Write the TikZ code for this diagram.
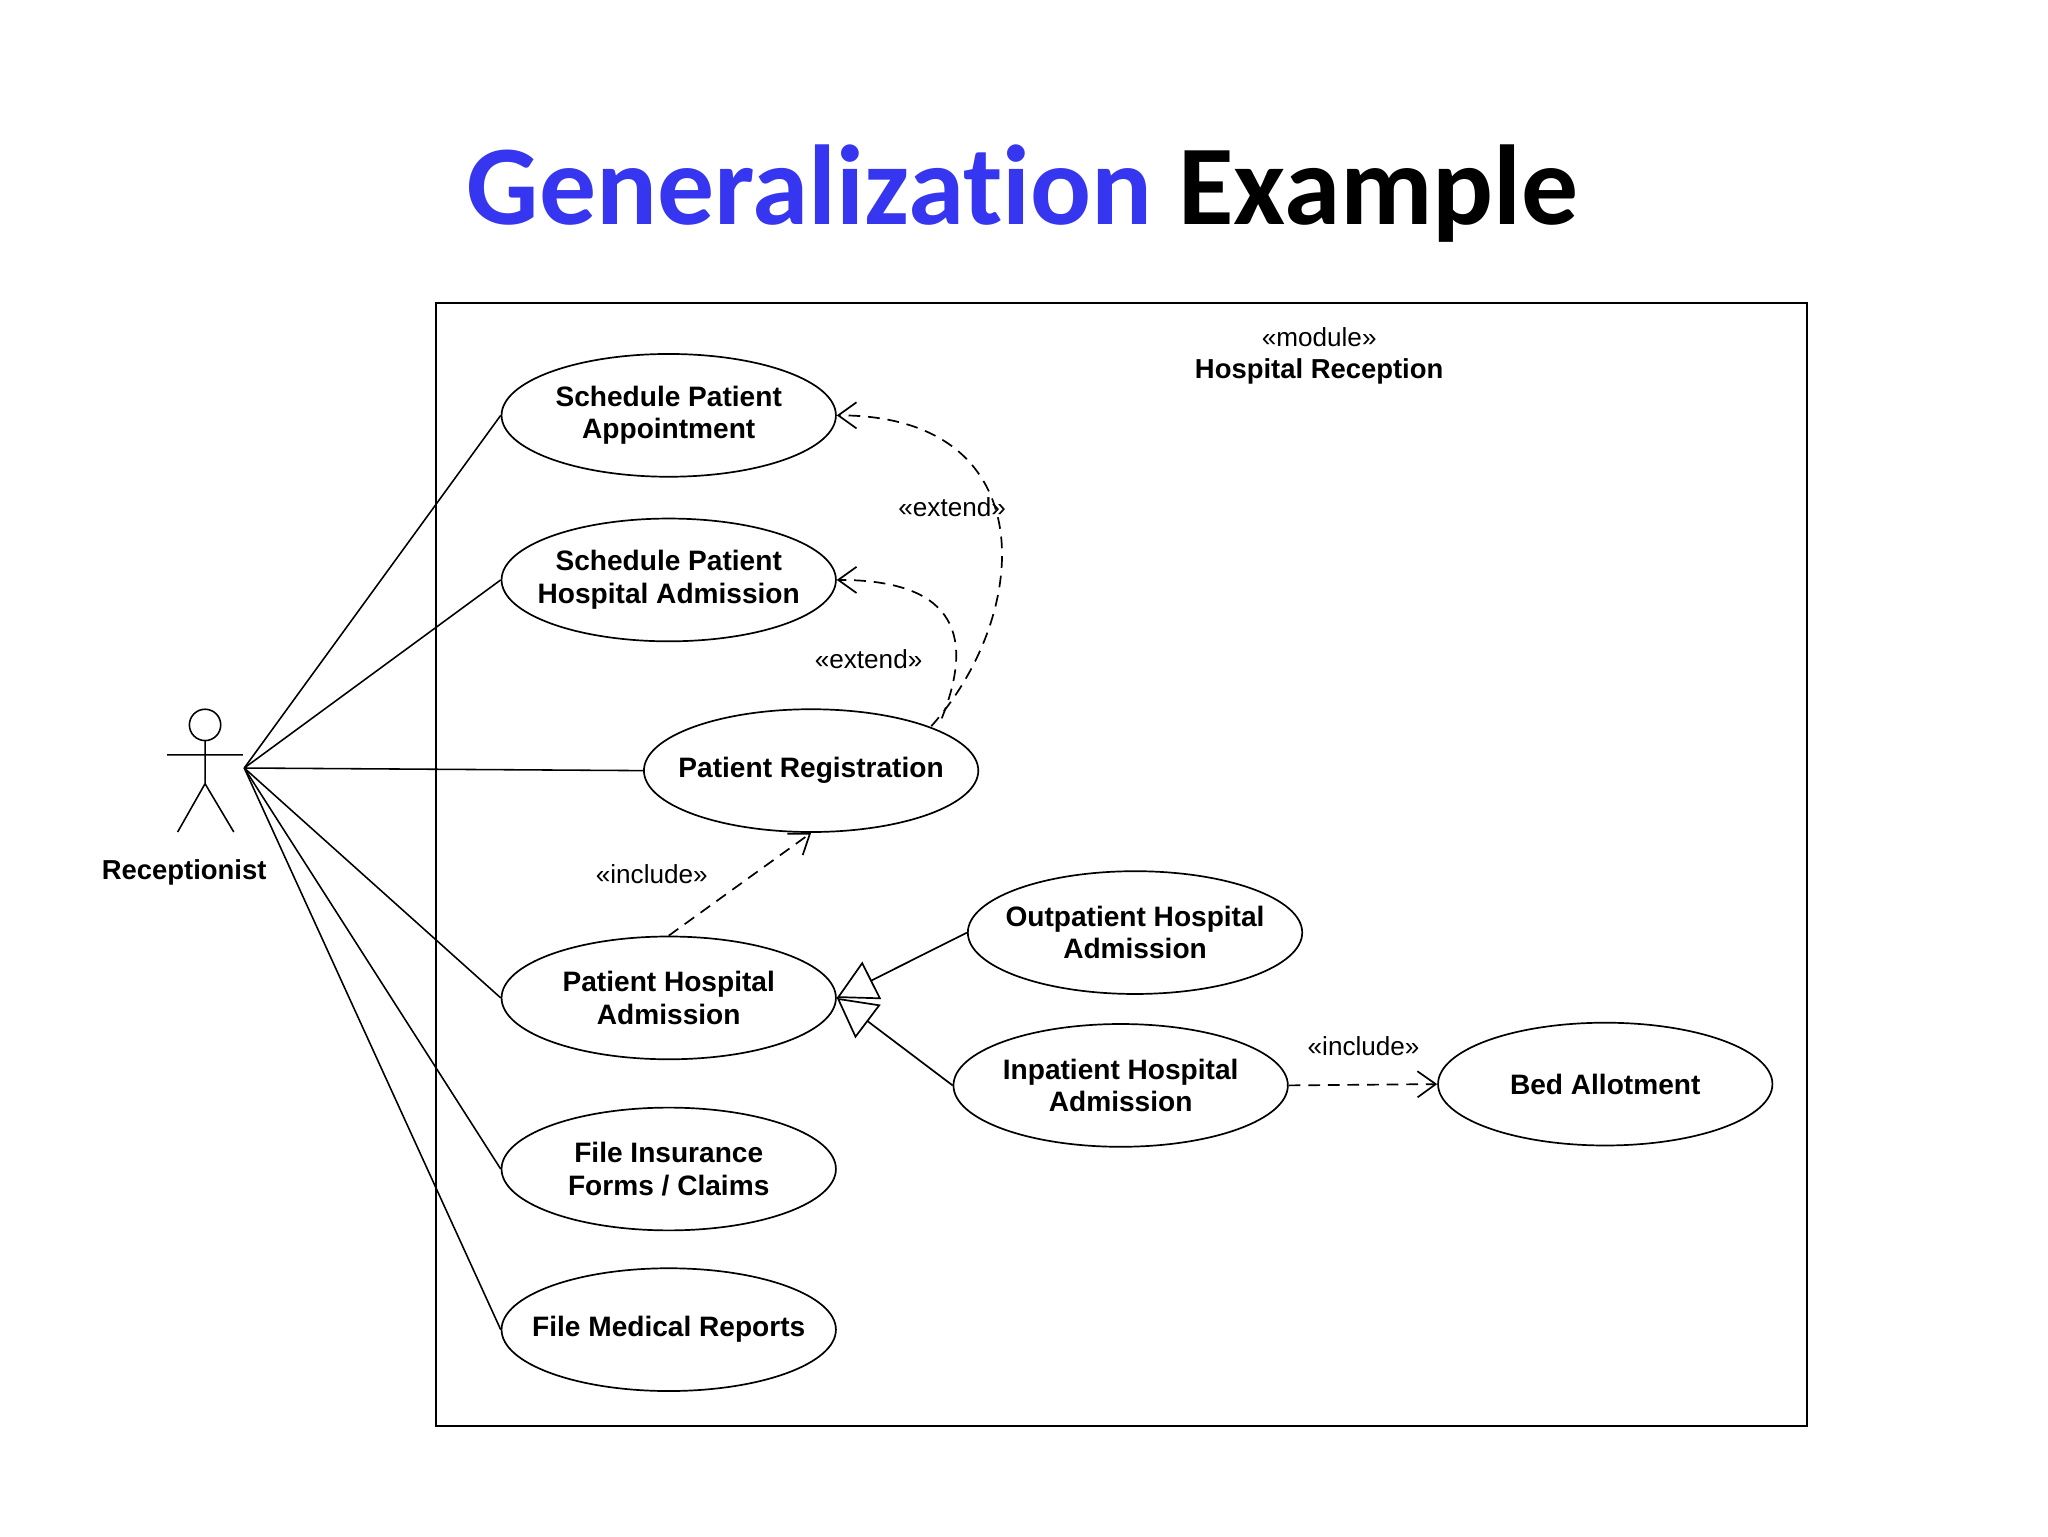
\documentclass[tikz,border=0pt]{standalone}
\usepackage{fontspec}
\setmainfont{Liberation Sans}
\newfontfamily\titlefont[Ligatures={NoCommon,NoRare,NoDiscretionary}]{Carlito}
\usetikzlibrary{shapes.geometric,arrows.meta}
\definecolor{titleblue}{RGB}{54,54,240}
\newcommand{\ct}[1]{\makebox[0pt]{#1}}
\begin{document}
\begin{tikzpicture}[x=1pt,y=-1pt,
  uc/.style={draw,ellipse,minimum width=256pt,minimum height=94pt,line width=1.3pt,align=center,font=\fontsize{21.5}{25}\selectfont\bfseries,inner sep=0pt},
  lbl/.style={font=\fontsize{20}{22}\selectfont},
  assoc/.style={line width=1.2pt},
  dep/.style={line width=1.3pt,dash pattern=on 9pt off 6pt,-{Straight Barb[length=14pt,width=20pt]}},
  gen/.style={line width=1.3pt,-{Triangle[open,length=30pt,width=32pt,fill=white]}}]
\useasboundingbox (0,0) rectangle (1568,1176);
\node[font=\titlefont\fontsize{87}{95}\selectfont\bfseries] (title) at (783,148) {\textcolor{titleblue}{Generalization} Example};
\node[draw,line width=1.5pt,minimum width=1050pt,minimum height=860pt,inner sep=0pt,anchor=north west] (frame) at (333,231) {};
\node[lbl] (mod) at (1010,258) {«module»};
\node[font=\fontsize{21}{23}\selectfont\bfseries] (hr) at (1010,284) {Hospital Reception};
% actor
\draw[line width=1.2pt] (157,555) circle (12);
\coordinate (neck) at (157,567);
\coordinate (hip) at (157,600);
\coordinate (al) at (128,578);
\coordinate (ar) at (186,578);
\coordinate (ll) at (136,637);
\coordinate (lr) at (179,637);
\coordinate (act) at (187,588);
\draw[line width=1.2pt] (neck)--(hip) (al)--(ar) (hip)--(ll) (hip)--(lr);
\node[font=\fontsize{21}{23}\selectfont\bfseries] (rec) at (141,668) {Receptionist};
% use cases
\node[uc] (spa) at (512,318) {\ct{Schedule Patient}\\\ct{Appointment}};
\node[uc] (sha) at (512,444) {\ct{Schedule Patient}\\\ct{Hospital Admission}};
\node[uc] (pr) at (621,590) {\ct{Patient Registration}};
\node[uc] (pha) at (512,764) {\ct{Patient Hospital}\\\ct{Admission}};
\node[uc] (fic) at (512,895) {\ct{File Insurance}\\\ct{Forms / Claims}};
\node[uc] (fmr) at (512,1018) {\ct{File Medical Reports}};
\node[uc] (oha) at (869,714) {\ct{Outpatient Hospital}\\\ct{Admission}};
\node[uc] (iha) at (858,831) {\ct{Inpatient Hospital}\\\ct{Admission}};
\node[uc] (ba) at (1229,830) {\ct{Bed Allotment}};
% associations
\foreach \t in {spa,sha,pr,pha,fic,fmr} \draw[assoc] (act) -- (\t.west);
% extends
\coordinate (e1) at (713,556);
\coordinate (e2) at (721,550);
\draw[dep] (e1) .. controls (790,470) and (800,318) .. (spa.east);
\draw[dep] (e2) .. controls (745,490) and (735,444) .. (sha.east);
\node[lbl] (x1) at (729,388) {«extend»};
\node[lbl] (x2) at (665,505) {«extend»};
% include
\draw[dep] (pha.north) -- (pr.south);
\node[lbl] (i1) at (499,669) {«include»};
\draw[dep] (iha.east) -- (ba.west);
\node[lbl] (i2) at (1044,801) {«include»};
% generalization
\draw[gen] (oha.west) -- (pha.east);
\draw[gen] (iha.west) -- (pha.east);
\end{tikzpicture}
\end{document}
